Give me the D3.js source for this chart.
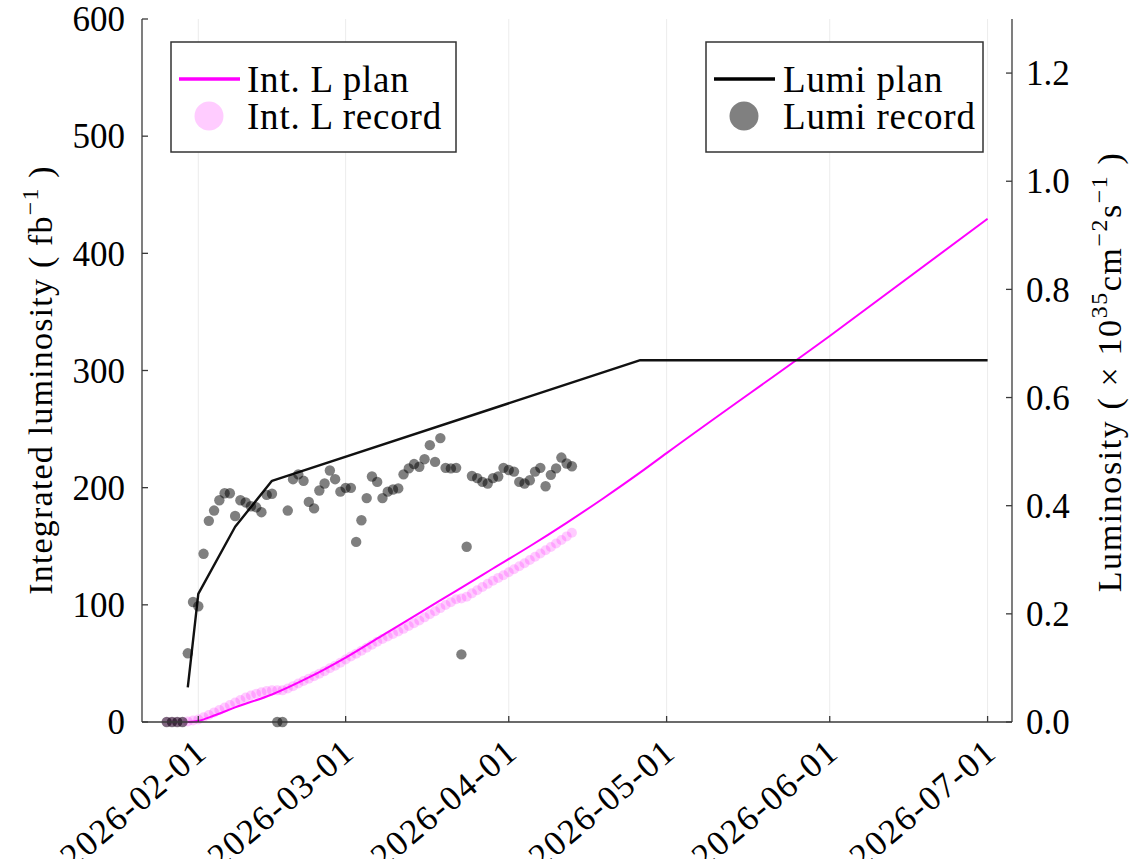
<!DOCTYPE html>
<html><head><meta charset="utf-8">
<script src="https://cdn.jsdelivr.net/npm/d3@7"></script>
<style>
body{margin:0;background:#fff}
svg{display:block}
text{font-family:"Liberation Serif","Times New Roman",serif;fill:#000}
</style>
</head><body>
<svg id="c" width="1147" height="859"></svg>
<script>
// ---------- data ----------
const recordStart = "2026-01-26";
const recordEnd = "2026-04-13";
// daily instantaneous luminosity record (x1e35 cm^-2 s^-1), Jan 26 .. Apr 13
const lumiRecord = [
  0,0,0,0,0.127,0.222,
  0.214,0.311,0.372,0.391,0.410,0.423,0.423,0.381,0.410,0.406,0.399,0.397,0.388,0.420,0.422,0,0,
  0.391,0.449,0.458,0.446,0.407,0.395,0.428,0.441,0.465,0.449,0.426,
  0.433,0.433,0.333,0.373,0.414,0.454,0.444,0.414,0.426,0.430,0.432,0.458,0.469,0.477,0.472,0.486,
  0.512,0.481,0.525,0.470,0.469,0.470,0.125,0.324,0.455,0.451,0.444,0.441,0.451,0.454,0.470,
  0.466,0.463,0.444,0.441,0.447,0.463,0.470,0.436,0.457,0.469,0.489,0.478,0.473
];
// daily integrated luminosity record (fb^-1), Jan 26 .. Apr 13
const intLRecord = [
  0,0,0,0,0.5,1.3,
  2.2,4.0,6.0,8.2,10.3,12.4,14.5,16.6,18.8,20.9,22.6,24.1,25.4,26.4,27.0,27.0,27.0,
  28.6,30.6,32.8,35.0,37.0,39.0,41.2,43.4,45.8,48.1,50.6,
  53.3,56.0,58.2,60.8,63.3,66.0,68.5,70.8,73.0,75.2,77.2,79.5,81.9,84.3,86.7,89.3,
  92.0,94.5,97.2,99.8,102.3,104.8,105.5,107.0,109.8,112.5,115.2,117.9,120.5,123.0,125.3,
  127.8,130.3,132.9,135.5,138.2,141.0,143.8,146.6,149.4,152.4,155.4,158.4,161.5
];
const lumiPlanDates = ["2026-01-30","2026-02-01","2026-02-08","2026-02-15","2026-04-26","2026-07-01"];
const lumiPlanValues = [0.064,0.237,0.361,0.446,0.669,0.669];
const intLPlanDates = ["2026-01-30","2026-02-01","2026-02-04","2026-02-08","2026-02-15","2026-02-22",
  "2026-03-01","2026-03-08","2026-03-15","2026-03-22","2026-03-29","2026-04-05","2026-04-12",
  "2026-04-19","2026-04-26","2026-05-01","2026-06-01","2026-07-01"];
const intLPlanValues = [0,1.0,5.5,12.5,23.5,38,55,74,93,112,131,150,170,191,213,229.5,329.5,429.5];
const xTickDates = ["2026-02-01","2026-03-01","2026-04-01","2026-05-01","2026-06-01","2026-07-01"];
const yLeftTicks = [0,100,200,300,400,500,600];
const yRightTicks = [0,0.2,0.4,0.6,0.8,1.0,1.2];
const xLimits = ["2026-01-21T07:12:00Z","2026-07-05T15:20:00Z"];
const yLeftLimits = [0,600];
const yRightLimits = [0,1.3];
const legendLeft = ["Int. L plan","Int. L record"];
const legendRight = ["Lumi plan","Lumi record"];

// ---------- layout ----------
const L = 142, R = 1012, T = 19, B = 722;
const svg = d3.select("#c");
const axisColor = "#3a3a3a";

const x = d3.scaleUtc().domain(xLimits.map(d => new Date(d))).range([L, R]);
const yL = d3.scaleLinear().domain(yLeftLimits).range([B, T]);
const yR = d3.scaleLinear().domain(yRightLimits).range([B, T]);

const recDates = d3.utcDay.range(new Date(recordStart), d3.utcDay.offset(new Date(recordEnd), 1));
const lumiRec = recDates.map((d, i) => ({d, v: lumiRecord[i]}));
const intRec = recDates.map((d, i) => ({d, v: intLRecord[i]}));
const lumiPlan = lumiPlanDates.map((d, i) => ({d: new Date(d), v: lumiPlanValues[i]}));
const intPlan = intLPlanDates.map((d, i) => ({d: new Date(d), v: intLPlanValues[i]}));
const xTicks = xTickDates.map(d => new Date(d));

// grid
svg.append("g").selectAll("line").data(xTicks).join("line")
  .attr("x1", d => x(d)).attr("x2", d => x(d)).attr("y1", T).attr("y2", B)
  .attr("stroke", "#ececec").attr("stroke-width", 1);

// Int. L plan
svg.append("path").datum(intPlan)
  .attr("d", d3.line().x(d => x(d.d)).y(d => yL(d.v)).curve(d3.curveMonotoneX))
  .attr("fill", "none").attr("stroke", "#ff00ff").attr("stroke-width", 2);
// Int. L record
svg.append("g").selectAll("circle").data(intRec).join("circle")
  .attr("cx", d => x(d.d)).attr("cy", d => yL(d.v)).attr("r", 5)
  .attr("fill", "#ff00ff").attr("fill-opacity", 0.2);

// Lumi plan
svg.append("path").datum(lumiPlan)
  .attr("d", d3.line().x(d => x(d.d)).y(d => yR(d.v)))
  .attr("fill", "none").attr("stroke", "#111").attr("stroke-width", 2.4).attr("stroke-linejoin", "round");
// Lumi record
svg.append("g").selectAll("circle").data(lumiRec).join("circle")
  .attr("cx", d => x(d.d)).attr("cy", d => yR(d.v)).attr("r", 5.2)
  .attr("fill", "#000").attr("fill-opacity", 0.5);

// axes lines
const ax = svg.append("g").attr("stroke", axisColor).attr("stroke-width", 1.3);
ax.append("line").attr("x1", L).attr("x2", L).attr("y1", T).attr("y2", B);
ax.append("line").attr("x1", R).attr("x2", R).attr("y1", T).attr("y2", B);
ax.append("line").attr("x1", L).attr("x2", R).attr("y1", B).attr("y2", B);

// ticks
ax.selectAll(".tl").data(yLeftTicks).join("line")
  .attr("x1", L).attr("x2", L + 6).attr("y1", d => yL(d)).attr("y2", d => yL(d));
ax.selectAll(".tr").data(yRightTicks).join("line")
  .attr("x1", R - 6).attr("x2", R).attr("y1", d => yR(d)).attr("y2", d => yR(d));
ax.selectAll(".tb").data(xTicks).join("line")
  .attr("x1", d => x(d)).attr("x2", d => x(d)).attr("y1", B).attr("y2", B - 6);

// tick labels
svg.append("g").selectAll("text").data(yLeftTicks).join("text")
  .attr("x", 125).attr("y", d => yL(d)).attr("dy", "0.35em")
  .attr("text-anchor", "end").attr("font-size", 35).text(d => d);
svg.append("g").selectAll("text").data(yRightTicks).join("text")
  .attr("x", 1026).attr("y", d => yR(d)).attr("dy", "0.35em")
  .attr("text-anchor", "start").attr("font-size", 35).text(d => d3.format(".1f")(d));
const fmt = d3.utcFormat("%Y-%m-%d");
svg.append("g").selectAll("text").data(xTicks).join("text")
  .attr("transform", d => `translate(${x(d) + 3},${B + 24}) rotate(-40)`)
  .attr("text-anchor", "end").attr("dy", "0.35em").attr("font-size", 35)
  .attr("letter-spacing", 1.5).text(d => fmt(d));

// axis titles
function richText(g, parts, size, ls) {
  const t = g.append("text").attr("font-size", size).attr("text-anchor", "middle").attr("letter-spacing", ls);
  let up = false;
  parts.forEach(p => {
    const s = t.append("tspan").text(p.t);
    if (p.sup && !up) { s.attr("font-size", size * 0.7).attr("dy", -size * 0.42); up = true; }
    else if (p.sup && up) { s.attr("font-size", size * 0.7); }
    else if (!p.sup && up) { s.attr("dy", size * 0.42); up = false; }
  });
  return t;
}
const gl = svg.append("g").attr("transform", `translate(52,380) rotate(-90)`);
richText(gl, [{t:"Integrated luminosity ( fb"},{t:"−1",sup:true},{t:" )"}], 34, 1.2);
const gr = svg.append("g").attr("transform", `translate(1121,372) rotate(-90)`);
richText(gr, [{t:"Luminosity ( × 10"},{t:"35",sup:true},{t:"cm"},{t:"−2",sup:true},{t:"s"},{t:"−1",sup:true},{t:" )"}], 34, 1.6);

// legends
function legend(x0, y0, w, h, lineX1, lineX2, circX, textX, items, lineColor, circColor) {
  const g = svg.append("g");
  g.append("rect").attr("x", x0).attr("y", y0).attr("width", w).attr("height", h)
    .attr("fill", "#fff").attr("stroke", "#333").attr("stroke-width", 1.5);
  g.append("line").attr("x1", lineX1).attr("x2", lineX2).attr("y1", 79).attr("y2", 79)
    .attr("stroke", lineColor).attr("stroke-width", 3.5);
  g.append("circle").attr("cx", circX).attr("cy", 116).attr("r", 14.5).attr("fill", circColor);
  g.selectAll("text").data(items).join("text")
    .attr("x", textX).attr("y", (d, i) => 79 + i * 37).attr("dy", "0.35em")
    .attr("font-size", 37).attr("letter-spacing", 0.8).text(d => d);
}
legend(171, 42, 285, 110, 179, 240, 209, 247, legendLeft, "#ff00ff", "#ffccff");
legend(706, 42, 277, 110, 714, 775, 744, 783, legendRight, "#000", "#808080");
</script>
</body></html>
